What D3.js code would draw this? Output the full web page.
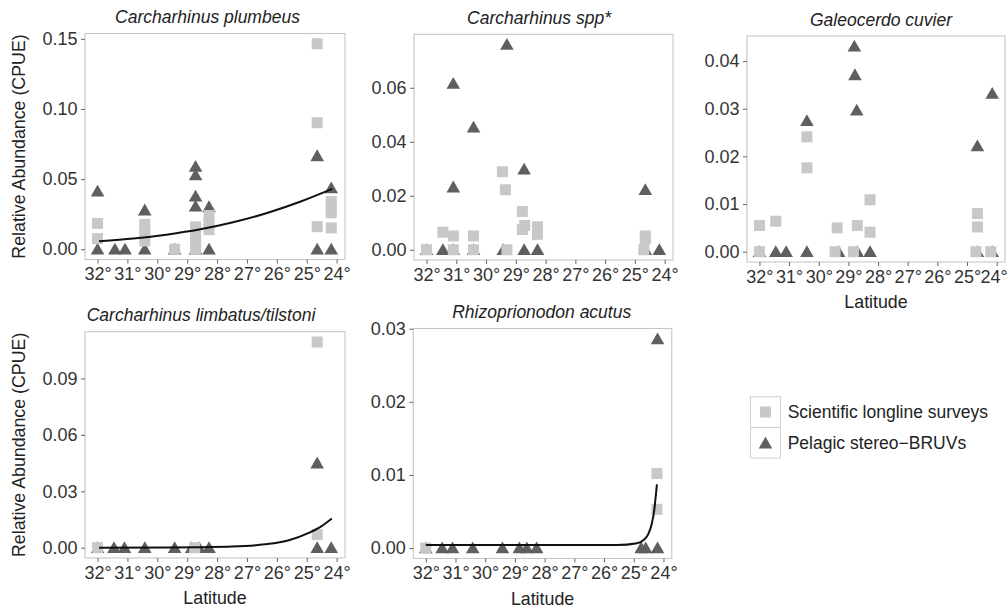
<!DOCTYPE html>
<html lang="en">
<head>
<meta charset="utf-8"/>
<script src="https://d3js.org/d3.v7.min.js"></script>
<style>
  body { margin: 0; background: #fff; }
  text { font-family: "Liberation Sans", Arial, sans-serif; }
  .tick text { font-size: 18px; fill: #333; }
  .tick line { stroke: #666; }
  .ptitle { font-size: 17.5px; font-style: italic; fill: #222; }
  .atitle { font-size: 17.8px; fill: #222; }
  .ltext { font-size: 17.5px; fill: #222; }
</style>
</head>
<body>
<svg id="chart" width="1008" height="615"></svg>
<script>
// latitude ticks (degrees south, plotted north -> south)
var latTicks = [32, 31, 30, 29, 28, 27, 26, 25, 24];

// [latitude, CPUE]
var plumbeusLongline = [[32.0,0.0184],[32.0,0.0076],[30.42,0.0177],[30.42,0.0106],[30.42,0.0059],[29.42,0],
  [28.72,0.016],[28.72,0.012],[28.72,0.008],[28.72,0.004],[28.72,0],[28.27,0.024],[28.27,0.019],[28.27,0.014],
  [24.65,0.1465],[24.65,0.0902],[24.65,0.0161],[24.18,0.034],[24.18,0.0295],[24.18,0.026],[24.18,0.0152]];
var plumbeusBruvs = [[32.0,0.0413],[32.0,0],[31.42,0],[31.08,0],[30.42,0.0279],[30.42,0],[29.42,0],
  [28.72,0.059],[28.72,0.053],[28.72,0.0378],[28.72,0.0307],[28.72,0],[28.27,0.0302],[28.27,0],
  [24.65,0.0666],[24.65,0],[24.18,0.0437],[24.18,0]];
var plumbeusFit = [[31.95,0.0057],[30.8,0.0076],[29.7,0.0104],[28.6,0.014],[27.5,0.019],[26.3,0.026],[25.2,0.034],[24.15,0.043]];

var sppLongline = [[32.0,0],[31.45,0.0065],[31.1,0.0051],[31.1,0],[30.42,0.0051],[30.42,0],[29.45,0.0289],
  [29.35,0.0222],[29.3,0],[28.78,0.0142],[28.78,0.0075],[28.7,0.009],[28.27,0.0085],[28.27,0.0057],
  [24.65,0.0051],[24.65,0.004],[24.7,0]];
var sppBruvs = [[32.0,0],[31.45,0],[31.1,0.0616],[31.1,0.0232],[31.1,0],[30.42,0.0454],[30.42,0],[29.42,0],
  [29.3,0.076],[28.72,0.0298],[28.72,0],[28.27,0],[24.65,0.0222],[24.65,0],[24.18,0]];

var cuvierLongline = [[32.0,0.0055],[32.0,0],[31.45,0.0064],[30.4,0.0241],[30.4,0.0176],[29.38,0.005],[29.45,0],
  [28.7,0.0055],[28.83,0],[28.27,0.0109],[28.27,0.0041],[24.65,0.008],[24.65,0.0052],[24.7,0],[24.2,0]];
var cuvierBruvs = [[32.0,0],[31.45,0],[31.1,0],[30.4,0.0275],[30.4,0],[29.33,0],[28.8,0.0431],[28.78,0.0371],
  [28.72,0.0297],[28.7,0],[28.27,0],[24.65,0.0222],[24.65,0],[24.15,0.0332],[24.15,0]];

var limbatusLongline = [[32.0,0],[28.75,0],[24.65,0.1094],[24.65,0.007]];
var limbatusBruvs = [[32.0,0],[31.45,0],[31.1,0],[30.42,0],[29.42,0],[28.85,0],[28.6,0],[28.27,0],
  [24.65,0.045],[24.65,0],[24.18,0]];
var limbatusFit = [[31.95,0],[29.7,0.0001],[28.5,0.0003],[27.5,0.0006],[26.4,0.0018],[25.6,0.004],[24.93,0.0079],[24.5,0.0115],[24.16,0.0155]];

var acutusLongline = [[32.0,0],[24.22,0.0102],[24.22,0.0053]];
var acutusBruvs = [[32.0,0],[31.45,0],[31.1,0],[30.42,0],[29.42,0],[28.85,0],[28.6,0],[28.27,0],
  [24.75,0],[24.6,0],[24.2,0.0286],[24.2,0]];
var acutusFit = [[32.0,0.0004],[28.0,0.0004],[25.56,0.0004],[24.89,0.00065],[24.67,0.0011],[24.5,0.002],[24.39,0.0034],[24.31,0.0052],[24.25,0.0075],[24.22,0.0087]];

var legendLabels = ["Scientific longline surveys", "Pelagic stereo\u2212BRUVs"];

var sqColor = "#c8c8c8", triColor = "#5f5f5f";

var panels = [
  {title: "Carcharhinus plumbeus", sq: plumbeusLongline, tri: plumbeusBruvs, fit: plumbeusFit,
   yticks: [0, 0.05, 0.10, 0.15], left: 85, top: 33.5, w: 260, h: 226, tx: 207.5, ylab: true, xlab: false},
  {title: "Carcharhinus spp*", sq: sppLongline, tri: sppBruvs, fit: null,
   yticks: [0, 0.02, 0.04, 0.06], left: 414, top: 34.3, w: 259, h: 225.7, tx: 539, ylab: false, xlab: false},
  {title: "Galeocerdo cuvier", sq: cuvierLongline, tri: cuvierBruvs, fit: null,
   yticks: [0, 0.01, 0.02, 0.03, 0.04], left: 747, top: 36, w: 258, h: 226, tx: 881, ylab: false, xlab: true, edge: true},
  {title: "Carcharhinus limbatus/tilstoni", sq: limbatusLongline, tri: limbatusBruvs, fit: limbatusFit,
   yticks: [0, 0.03, 0.06, 0.09], left: 85, top: 331.7, w: 260, h: 226.3, tx: 201, ylab: true, xlab: true},
  {title: "Rhizoprionodon acutus", sq: acutusLongline, tri: acutusBruvs, fit: acutusFit,
   yticks: [0, 0.01, 0.02, 0.03], left: 413.3, top: 328.5, w: 258.5, h: 230, tx: 541.7, ylab: false, xlab: true}
];

var svg = d3.select("#chart");
var fmt = d3.format(".2f");
var triPath = "M0,-6.5L6.8,5.3L-6.8,5.3Z";

panels.forEach(function(p) {
  var g = svg.append("g").attr("transform", "translate(" + p.left + "," + p.top + ")");

  var ymax = d3.max(p.sq.concat(p.tri).map(function(d) { return d[1]; }));
  var x = d3.scaleLinear().domain([32.42, 23.72]).range([0, p.w]);
  var y = d3.scaleLinear().domain([-0.05 * ymax, 1.05 * ymax]).range([p.h, 0]);

  g.append("rect").attr("width", p.w).attr("height", p.h)
    .attr("fill", "#fff").attr("stroke", "#c6c6c6").attr("stroke-width", 1.1);

  var ya = g.append("g")
    .call(d3.axisLeft(y).tickValues(p.yticks).tickFormat(fmt).tickSize(4).tickPadding(3.5));
  ya.select(".domain").remove();

  var xa = g.append("g").attr("transform", "translate(0," + p.h + ")")
    .call(d3.axisBottom(x).tickValues(latTicks).tickFormat(function(d) { return d + "\u00b0"; }).tickSize(4).tickPadding(4));
  xa.select(".domain").remove();
  // keep the last label of the right-hand panel inside the page
  if (p.edge) {
    xa.selectAll(".tick text").filter(function(d) { return d === 24; }).attr("dx", "-3");
  }

  g.selectAll(".tri").data(p.tri).enter().append("path")
    .attr("class", "tri")
    .attr("d", triPath)
    .attr("fill", triColor)
    .attr("transform", function(d) { return "translate(" + x(d[0]) + "," + y(d[1]) + ")"; });

  g.selectAll(".sq").data(p.sq).enter().append("rect")
    .attr("class", "sq")
    .attr("x", function(d) { return x(d[0]) - 5.5; })
    .attr("y", function(d) { return y(d[1]) - 5.5; })
    .attr("width", 11).attr("height", 11)
    .attr("fill", sqColor);

  if (p.fit) {
    var line = d3.line()
      .x(function(d) { return x(d[0]); })
      .y(function(d) { return y(d[1]); })
      .curve(d3.curveMonotoneX);
    g.append("path").datum(p.fit)
      .attr("d", line)
      .attr("fill", "none")
      .attr("stroke", "#111")
      .attr("stroke-width", 2);
  }

  svg.append("text").attr("class", "ptitle")
    .attr("x", p.tx).attr("y", p.top - 10.5)
    .attr("text-anchor", "middle")
    .text(p.title);

  if (p.ylab) {
    svg.append("text").attr("class", "atitle")
      .attr("transform", "translate(24.5," + (p.top + p.h / 2) + ") rotate(-90)")
      .attr("text-anchor", "middle")
      .text("Relative Abundance (CPUE)");
  }
  if (p.xlab) {
    svg.append("text").attr("class", "atitle")
      .attr("x", p.left + p.w / 2).attr("y", p.top + p.h + 46)
      .attr("text-anchor", "middle")
      .text("Latitude");
  }
});

// legend
var lg = svg.append("g").attr("transform", "translate(750.5,396.7)");
legendLabels.forEach(function(lab, i) {
  var k = lg.append("g").attr("transform", "translate(0," + (i * 30.7) + ")");
  k.append("rect").attr("width", 30).attr("height", 30.7)
    .attr("fill", "#fff").attr("stroke", "#d2d2d2").attr("stroke-width", 1);
  if (i === 0) {
    k.append("rect").attr("x", 9.5).attr("y", 9.8).attr("width", 11).attr("height", 11).attr("fill", sqColor);
  } else {
    k.append("path").attr("d", triPath).attr("fill", triColor).attr("transform", "translate(15,15.8)");
  }
  k.append("text").attr("class", "ltext")
    .attr("x", 37.2).attr("y", 15.4).attr("dy", "0.35em")
    .text(lab);
});
</script>
</body>
</html>
